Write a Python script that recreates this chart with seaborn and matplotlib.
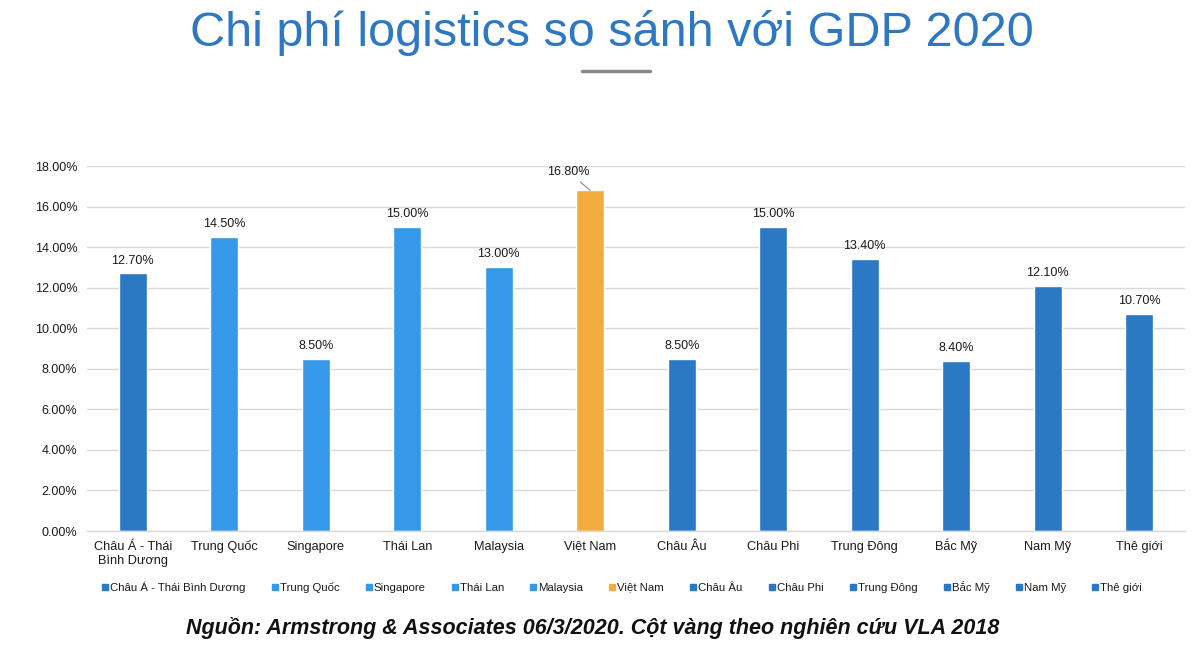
import matplotlib
matplotlib.use("Agg")
import matplotlib.pyplot as plt
import matplotlib.transforms as mtransforms
import seaborn as sns
import pandas as pd
from matplotlib.lines import Line2D
from matplotlib.ticker import FuncFormatter

categories = ["Châu Á - Thái Bình Dương", "Trung Quốc", "Singapore", "Thái Lan", "Malaysia",
              "Việt Nam", "Châu Âu", "Châu Phi", "Trung Đông", "Bắc Mỹ", "Nam Mỹ", "Thê giới"]
tick_labels = ["Châu Á - Thái\nBình Dương", "Trung Quốc", "Singapore", "Thái Lan", "Malaysia",
               "Việt Nam", "Châu Âu", "Châu Phi", "Trung Đông", "Bắc Mỹ", "Nam Mỹ", "Thê giới"]
values = [12.7, 14.5, 8.5, 15.0, 13.0, 16.8, 8.5, 15.0, 13.4, 8.4, 12.1, 10.7]

DARK = "#2B78C4"
LIGHT = "#3598E8"
ORANGE = "#F5AC3E"
colors = [DARK, LIGHT, LIGHT, LIGHT, LIGHT, ORANGE, DARK, DARK, DARK, DARK, DARK, DARK]

sns.set_theme(style="white")
plt.rcParams['font.family'] = ['Liberation Sans', 'DejaVu Sans']

df = pd.DataFrame({"cat": categories, "val": values})

fig = plt.figure(figsize=(11.93, 6.46), dpi=100)
ax_h = (531 - 166) / 646
ax = fig.add_axes([87/1193, 1-531/646, (1185-87)/1193, ax_h])

sns.barplot(data=df, x="cat", y="val", hue="cat", palette=dict(zip(categories, colors)),
            dodge=False, width=0.31, legend=False, ax=ax, saturation=1)

ax.set_ylim(0, 18)
ax.set_xlim(-0.5, len(categories) - 0.5)
ax.set_yticks(range(0, 19, 2))
ax.yaxis.set_major_formatter(FuncFormatter(lambda v, p: f"{v:.2f}%"))
ax.set_xticks(range(len(categories)))
ax.set_xticklabels([])
ax.tick_params(axis="y", labelsize=9, labelcolor="#1a1a1a", length=0, pad=7)
ax.tick_params(axis="x", length=0)
ax.set_xlabel("")
ax.set_ylabel("")
ax.grid(axis="y", color="#D9D9D9", linewidth=1)
ax.set_axisbelow(True)
for s in ["top", "right", "left"]:
    ax.spines[s].set_visible(False)
ax.spines["bottom"].set_color("#D9D9D9")
ax.spines["bottom"].set_linewidth(1)


def baseline_fix(text_str, size):
    # compensate the renderer's shift for strings whose only descent is a small dot-below mark
    if "ệ" in text_str and not any(c in text_str for c in "gjpqyỹ"):
        return 1.0 * size / 9.2
    return 0.0


# category labels: first-line baselines aligned
trans = mtransforms.blended_transform_factory(ax.transData, ax.transAxes)
base_y = -19 / 365
line_step = 14 / 365
for i, lab in enumerate(tick_labels):
    for j, line in enumerate(lab.split("\n")):
        dy = baseline_fix(line, 9.2)
        t = trans + mtransforms.ScaledTranslation(0, dy / 100, fig.dpi_scale_trans)
        ax.text(i, base_y - j * line_step, line, transform=t, ha="center", va="baseline",
                fontsize=9.2, color="#1a1a1a")

for i, v in enumerate(values):
    if categories[i] == "Việt Nam":
        ax.annotate(f"{v:.2f}%", xy=(i, v), xytext=(-16, 9), textcoords="offset points",
                    ha="center", va="bottom", fontsize=9, color="#1a1a1a",
                    arrowprops=dict(arrowstyle="-", color="#888888", lw=0.8,
                                    shrinkA=1, shrinkB=0))
    else:
        ax.annotate(f"{v:.2f}%", xy=(i, v), xytext=(0, 5), textcoords="offset points",
                    ha="center", va="bottom", fontsize=9, color="#1a1a1a")

handles = [Line2D([0], [0], marker="s", linestyle="", markersize=4.5,
                  markerfacecolor=c, markeredgecolor=c) for c in colors]
leg = fig.legend(handles, categories, loc="center", bbox_to_anchor=(621/1193, 1-587/646),
                 ncol=12, frameon=False, fontsize=8.2, handletextpad=0.0, columnspacing=2.1,
                 handlelength=0.9, labelcolor="#1a1a1a")
for t in leg.get_texts():
    dy = baseline_fix(t.get_text(), 8.2)
    if dy:
        t.set_transform(t.get_transform() + mtransforms.ScaledTranslation(0, dy / 100, fig.dpi_scale_trans))

fig.text(612/1193, 1-33/646, "Chi phí logistics so sánh với GDP 2020", ha="center", va="center",
         fontsize=35, color="#2E77C2")
fig.add_artist(Line2D([582/1193, 650/1193], [1-71/646, 1-71/646], color="#888888", linewidth=2.5))
fig.text(0.497, 1-628/646, "Nguồn: Armstrong & Associates 06/3/2020. Cột vàng theo nghiên cứu VLA 2018",
         ha="center", va="center", fontsize=15.5, fontweight="bold", fontstyle="italic", color="#111111")

fig.savefig("out.png", dpi=100, facecolor="white")
